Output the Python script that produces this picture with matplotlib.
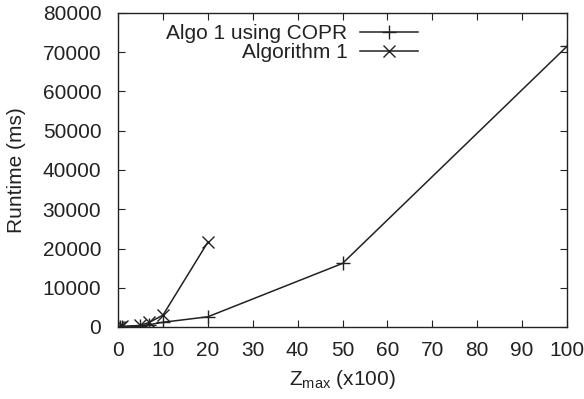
import matplotlib
matplotlib.use("Agg")
import matplotlib.pyplot as plt

plt.rcParams['font.family'] = ['Liberation Sans', 'DejaVu Sans']

copr_x = [0.1, 0.5, 1, 5, 7, 10, 20, 50, 100]
copr_y = [20, 40, 80, 300, 600, 1200, 2600, 16200, 71500]
algo_x = [0.1, 0.5, 1, 5, 7, 10, 20]
algo_y = [50, 100, 150, 400, 1200, 3000, 21600]

xticks = [0, 10, 20, 30, 40, 50, 60, 70, 80, 90, 100]
yticks = [0, 10000, 20000, 30000, 40000, 50000, 60000, 70000, 80000]

fig = plt.figure(figsize=(5.84, 3.99), dpi=100)
ax = fig.add_axes([118/584, 1-327/399, (567-118)/584, (327-13)/399])

ax.plot(copr_x, copr_y, color='#222222', lw=1.1, marker='+', ms=10, mew=1.0,
        label='Algo 1 using COPR')
ax.plot(algo_x, algo_y, color='#222222', lw=1.1, marker='x', ms=8, mew=1.0,
        label='Algorithm 1')

ax.set_xlim(0, 100)
ax.set_ylim(0, 80000)
ax.set_xticks(xticks)
ax.set_yticks(yticks)
ax.tick_params(direction='in', top=True, right=True, length=5, width=0.8,
               labelsize=15, colors='#222222')
ax.tick_params(axis='x', pad=10)
ax.tick_params(axis='y', pad=12)
for s in ax.spines.values():
    s.set_color('#222222')
    s.set_linewidth(1.0)

ax.set_xlabel(r'Z$_{\mathregular{max}}$ (x100)', fontsize=15, color='#222222', labelpad=6)
ax.set_ylabel('Runtime (ms)', fontsize=15, color='#222222', labelpad=12)

leg = ax.legend(loc='upper left', bbox_to_anchor=(0.066, 1.025), frameon=False,
                markerfirst=False, fontsize=15, handlelength=2.8,
                handletextpad=0.6, labelspacing=0.0)
for t in leg.get_texts():
    t.set_ha('right')
    t.set_color('#222222')
leg._legend_box.align = 'right'

fig.savefig('out.png', dpi=100)
